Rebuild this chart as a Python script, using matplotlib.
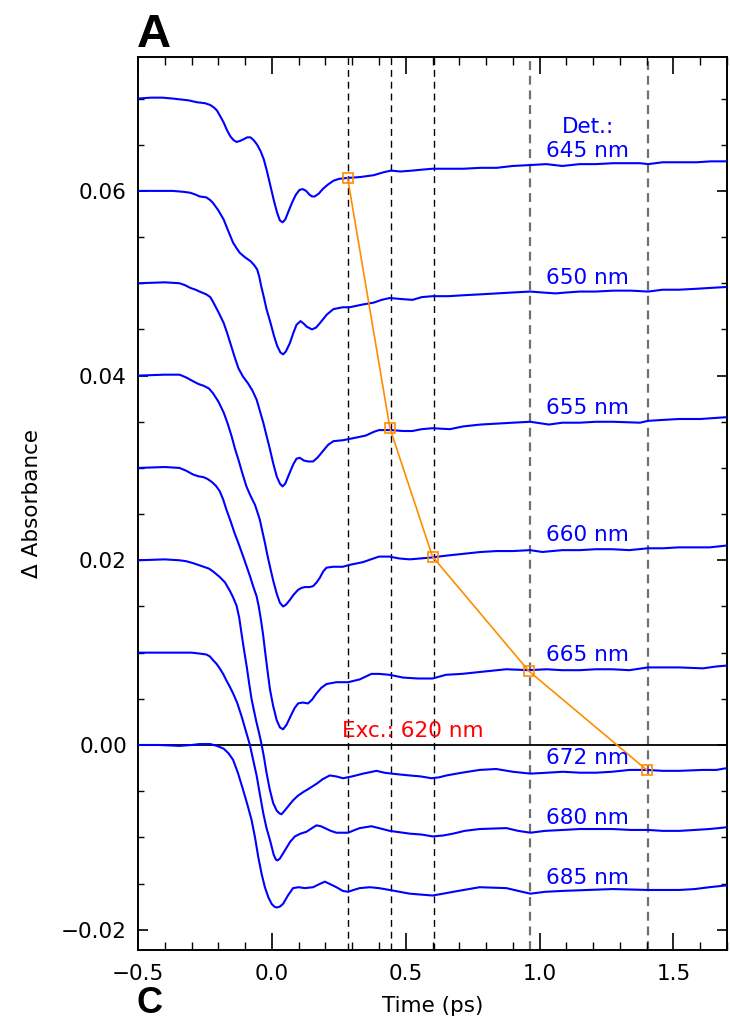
import matplotlib
matplotlib.use("Agg")
import matplotlib.pyplot as plt
from matplotlib.ticker import MultipleLocator, FuncFormatter

# ---------------- data: (time in ps, delta absorbance) ----------------
trace_645 = [(-0.50, 0.0700), (-0.45, 0.0701), (-0.41, 0.0701), (-0.37, 0.0700), (-0.34, 0.0699), (-0.31, 0.0698),
             (-0.28, 0.0696), (-0.25, 0.0695), (-0.23, 0.0693), (-0.215, 0.0690), (-0.205, 0.0687), (-0.193, 0.0681),
             (-0.18, 0.0674), (-0.168, 0.0666), (-0.155, 0.0659), (-0.143, 0.0655), (-0.132, 0.0653), (-0.12, 0.0654),
             (-0.105, 0.0656), (-0.092, 0.0658), (-0.08, 0.0658), (-0.068, 0.0655), (-0.055, 0.0650), (-0.042, 0.0643),
             (-0.03, 0.0634), (-0.018, 0.0621), (-0.005, 0.0605), (0.008, 0.0589), (0.02, 0.0576), (0.03, 0.0568),
             (0.04, 0.0566), (0.05, 0.0569), (0.065, 0.0580), (0.078, 0.0589), (0.09, 0.0596), (0.103, 0.0601),
             (0.115, 0.0602), (0.128, 0.0600), (0.14, 0.0596), (0.15, 0.0594), (0.16, 0.0594), (0.175, 0.0597),
             (0.19, 0.0602), (0.21, 0.0607), (0.23, 0.0611), (0.25, 0.0613), (0.28, 0.0614), (0.33, 0.0615),
             (0.38, 0.0617), (0.415, 0.0620), (0.445, 0.0622), (0.48, 0.0621), (0.525, 0.0622), (0.56, 0.0623),
             (0.60, 0.0624), (0.66, 0.0624), (0.715, 0.0624), (0.78, 0.0625), (0.84, 0.0625), (0.90, 0.0627),
             (0.965, 0.0628), (1.025, 0.0629), (1.085, 0.0627), (1.15, 0.0629), (1.21, 0.0629), (1.275, 0.0630),
             (1.375, 0.0630), (1.405, 0.0629), (1.46, 0.0631), (1.52, 0.0631), (1.585, 0.0631), (1.64, 0.0632),
             (1.70, 0.0632)]

trace_650 = [(-0.50, 0.0600), (-0.37, 0.0600), (-0.33, 0.0599), (-0.305, 0.0598), (-0.285, 0.0596), (-0.27, 0.0594),
             (-0.245, 0.0593), (-0.23, 0.0590), (-0.22, 0.0587), (-0.20, 0.0579), (-0.18, 0.0569), (-0.162, 0.0556),
             (-0.145, 0.0544), (-0.132, 0.0538), (-0.12, 0.0533), (-0.10, 0.0528), (-0.08, 0.0524), (-0.067, 0.0520),
             (-0.055, 0.0515), (-0.047, 0.0507), (-0.04, 0.0497), (-0.03, 0.0485), (-0.02, 0.0472), (-0.005, 0.0457),
             (0.008, 0.0443), (0.02, 0.0432), (0.032, 0.0425), (0.042, 0.0423), (0.052, 0.0426), (0.067, 0.0435),
             (0.08, 0.0446), (0.092, 0.0455), (0.107, 0.0459), (0.12, 0.0456), (0.13, 0.0453), (0.15, 0.0450),
             (0.165, 0.0452), (0.18, 0.0457), (0.205, 0.0466), (0.23, 0.0472), (0.265, 0.0474), (0.29, 0.0474),
             (0.34, 0.0477), (0.38, 0.0479), (0.41, 0.0482), (0.44, 0.0484), (0.48, 0.0483), (0.525, 0.0482),
             (0.56, 0.0485), (0.60, 0.0486), (0.66, 0.0486), (0.715, 0.0487), (0.78, 0.0488), (0.84, 0.0489),
             (0.90, 0.0490), (0.965, 0.0491), (1.01, 0.0490), (1.06, 0.0489), (1.10, 0.0490), (1.15, 0.0491),
             (1.21, 0.0491), (1.275, 0.0492), (1.34, 0.0492), (1.405, 0.0491), (1.46, 0.0493), (1.52, 0.0493),
             (1.585, 0.0494), (1.64, 0.0495), (1.70, 0.0496)]

trace_655 = [(-0.50, 0.0500), (-0.40, 0.0501), (-0.345, 0.0500), (-0.325, 0.0498), (-0.305, 0.0495), (-0.285, 0.0493),
             (-0.27, 0.0491), (-0.245, 0.0488), (-0.23, 0.0485), (-0.22, 0.0480), (-0.20, 0.0469), (-0.18, 0.0457),
             (-0.168, 0.0447), (-0.155, 0.0435), (-0.14, 0.0421), (-0.125, 0.0408), (-0.108, 0.0399), (-0.09, 0.0392),
             (-0.073, 0.0384), (-0.057, 0.0374), (-0.045, 0.0362), (-0.032, 0.0349), (-0.02, 0.0335), (-0.007, 0.0320),
             (0.005, 0.0305), (0.018, 0.0291), (0.03, 0.0283), (0.04, 0.0280), (0.05, 0.0283), (0.067, 0.0295),
             (0.08, 0.0304), (0.092, 0.0310), (0.104, 0.0311), (0.12, 0.0308), (0.135, 0.0307), (0.154, 0.0307),
             (0.17, 0.0311), (0.19, 0.0318), (0.21, 0.0325), (0.23, 0.0329), (0.265, 0.0330), (0.30, 0.0332),
             (0.35, 0.0335), (0.38, 0.0339), (0.40, 0.0341), (0.445, 0.0341), (0.49, 0.0340), (0.525, 0.0340),
             (0.56, 0.0342), (0.60, 0.0343), (0.665, 0.0342), (0.715, 0.0345), (0.78, 0.0347), (0.84, 0.0348),
             (0.90, 0.0349), (0.965, 0.0350), (1.035, 0.0347), (1.085, 0.0349), (1.15, 0.0349), (1.21, 0.0350),
             (1.275, 0.0350), (1.375, 0.0349), (1.405, 0.0351), (1.46, 0.0352), (1.52, 0.0353), (1.60, 0.0353),
             (1.70, 0.0355)]

trace_660 = [(-0.50, 0.0400), (-0.40, 0.0401), (-0.345, 0.0401), (-0.32, 0.0398), (-0.295, 0.0394), (-0.275, 0.0391),
             (-0.255, 0.0389), (-0.235, 0.0386), (-0.22, 0.0381), (-0.20, 0.0372), (-0.18, 0.0360), (-0.165, 0.0348),
             (-0.15, 0.0334), (-0.138, 0.0321), (-0.125, 0.0309), (-0.11, 0.0294), (-0.095, 0.0280), (-0.08, 0.0270),
             (-0.063, 0.0260), (-0.055, 0.0253), (-0.045, 0.0244), (-0.036, 0.0232), (-0.026, 0.0219), (-0.017, 0.0206),
             (-0.007, 0.0193), (0.005, 0.0178), (0.018, 0.0164), (0.03, 0.0154), (0.042, 0.0150), (0.053, 0.0152),
             (0.067, 0.0157), (0.082, 0.0163), (0.098, 0.0168), (0.11, 0.0170), (0.123, 0.0171), (0.14, 0.0171),
             (0.154, 0.0172), (0.167, 0.0176), (0.179, 0.0181), (0.192, 0.0188), (0.204, 0.0192), (0.229, 0.0193),
             (0.265, 0.0193), (0.29, 0.0195), (0.34, 0.0198), (0.37, 0.0201), (0.40, 0.0204), (0.44, 0.0204),
             (0.475, 0.0202), (0.515, 0.0201), (0.555, 0.0202), (0.595, 0.0203), (0.65, 0.0205), (0.715, 0.0207),
             (0.78, 0.0209), (0.84, 0.0210), (0.90, 0.0210), (0.965, 0.0211), (1.01, 0.0209), (1.085, 0.0211),
             (1.15, 0.0211), (1.21, 0.0212), (1.27, 0.0212), (1.335, 0.0211), (1.405, 0.0213), (1.46, 0.0213),
             (1.52, 0.0214), (1.635, 0.0214), (1.70, 0.0216)]

trace_665 = [(-0.50, 0.0300), (-0.40, 0.0301), (-0.345, 0.0300), (-0.32, 0.0297), (-0.295, 0.0293), (-0.275, 0.0291),
             (-0.255, 0.0290), (-0.24, 0.0288), (-0.225, 0.0285), (-0.21, 0.0281), (-0.195, 0.0275), (-0.182, 0.0266),
             (-0.17, 0.0255), (-0.155, 0.0243), (-0.14, 0.0230), (-0.123, 0.0217), (-0.107, 0.0204), (-0.095, 0.0194),
             (-0.082, 0.0183), (-0.07, 0.0172), (-0.057, 0.0161), (-0.049, 0.0150), (-0.041, 0.0136), (-0.033, 0.0120),
             (-0.026, 0.0103), (-0.017, 0.0082), (-0.007, 0.0060), (0.005, 0.0042), (0.018, 0.0027), (0.03, 0.0019),
             (0.042, 0.0017), (0.055, 0.0022), (0.073, 0.0033), (0.085, 0.0040), (0.098, 0.0045), (0.115, 0.0046),
             (0.135, 0.0045), (0.15, 0.0049), (0.167, 0.0056), (0.185, 0.0062), (0.204, 0.0066), (0.241, 0.0068),
             (0.285, 0.0068), (0.328, 0.0071), (0.372, 0.0077), (0.40, 0.0077), (0.44, 0.0076), (0.49, 0.0073),
             (0.545, 0.0072), (0.60, 0.0072), (0.65, 0.0076), (0.71, 0.0077), (0.775, 0.0079), (0.875, 0.0082),
             (0.96, 0.0081), (1.025, 0.0082), (1.085, 0.0081), (1.15, 0.0081), (1.21, 0.0082), (1.27, 0.0082),
             (1.335, 0.0081), (1.405, 0.0084), (1.52, 0.0084), (1.61, 0.0083), (1.66, 0.0085), (1.70, 0.0086)]

trace_672 = [(-0.50, 0.0200), (-0.40, 0.0201), (-0.345, 0.0200), (-0.32, 0.0199), (-0.295, 0.0197), (-0.275, 0.0195),
             (-0.255, 0.0193), (-0.235, 0.0191), (-0.22, 0.0188), (-0.195, 0.0182), (-0.175, 0.0176), (-0.157, 0.0167),
             (-0.145, 0.0160), (-0.132, 0.0151), (-0.122, 0.0138), (-0.113, 0.0120), (-0.104, 0.0103), (-0.094, 0.0085),
             (-0.085, 0.0067), (-0.076, 0.0050), (-0.066, 0.0036), (-0.057, 0.0024), (-0.047, 0.0012), (-0.038, 0.0000),
             (-0.029, -0.0014), (-0.020, -0.0030), (-0.008, -0.0048), (0.005, -0.0063), (0.018, -0.0071),
             (0.028, -0.0074), (0.036, -0.0075), (0.048, -0.0071), (0.062, -0.0066), (0.079, -0.0060),
             (0.097, -0.0055), (0.117, -0.0051), (0.14, -0.0047), (0.167, -0.0042), (0.19, -0.0037), (0.216, -0.0033),
             (0.24, -0.0034), (0.266, -0.0036), (0.30, -0.0034), (0.341, -0.0031), (0.391, -0.0028), (0.42, -0.0030),
             (0.447, -0.0031), (0.48, -0.0032), (0.515, -0.0033), (0.555, -0.0034), (0.596, -0.0036),
             (0.625, -0.0035), (0.652, -0.0033), (0.71, -0.0030), (0.776, -0.0027), (0.838, -0.0026), (0.90, -0.0029),
             (0.966, -0.0031), (1.03, -0.0030), (1.087, -0.0029), (1.15, -0.0030), (1.212, -0.0030), (1.27, -0.0029),
             (1.336, -0.0027), (1.40, -0.0027), (1.46, -0.0028), (1.522, -0.0028), (1.609, -0.0027), (1.66, -0.0027),
             (1.70, -0.0025)]

trace_680 = [(-0.50, 0.0100), (-0.40, 0.0100), (-0.345, 0.0100), (-0.30, 0.0100), (-0.27, 0.0099), (-0.245, 0.0098),
             (-0.232, 0.0096), (-0.22, 0.0092), (-0.207, 0.0088), (-0.195, 0.0083), (-0.182, 0.0077), (-0.17, 0.0070),
             (-0.157, 0.0063), (-0.145, 0.0056), (-0.13, 0.0046), (-0.113, 0.0031), (-0.098, 0.0016), (-0.082, 0.0000),
             (-0.07, -0.0016), (-0.057, -0.0033), (-0.045, -0.0053), (-0.032, -0.0074), (-0.02, -0.0090),
             (-0.007, -0.0103), (0.007, -0.0119), (0.015, -0.0124), (0.021, -0.0125), (0.03, -0.0123),
             (0.049, -0.0114), (0.068, -0.0105), (0.086, -0.0099), (0.107, -0.0096), (0.129, -0.0094), (0.15, -0.0090),
             (0.167, -0.0087), (0.183, -0.0088), (0.198, -0.0090), (0.22, -0.0093), (0.241, -0.0095), (0.285, -0.0095),
             (0.31, -0.0092), (0.328, -0.0090), (0.372, -0.0088), (0.40, -0.0090), (0.44, -0.0093), (0.515, -0.0096),
             (0.56, -0.0097), (0.60, -0.0099), (0.64, -0.0098), (0.677, -0.0096), (0.72, -0.0093), (0.776, -0.0091),
             (0.876, -0.0090), (0.92, -0.0093), (0.966, -0.0095), (1.02, -0.0093), (1.087, -0.0092), (1.15, -0.0091),
             (1.273, -0.0091), (1.34, -0.0092), (1.405, -0.0092), (1.46, -0.0093), (1.522, -0.0093), (1.58, -0.0092),
             (1.634, -0.0091), (1.67, -0.0090), (1.70, -0.0089)]

trace_685 = [(-0.50, 0.0000), (-0.42, 0.0000), (-0.345, -0.0001), (-0.30, 0.0000), (-0.27, 0.0001), (-0.23, 0.0001),
             (-0.205, -0.0001), (-0.18, -0.0004), (-0.162, -0.0009), (-0.145, -0.0016), (-0.127, -0.0030),
             (-0.107, -0.0049), (-0.091, -0.0065), (-0.076, -0.0081), (-0.063, -0.0100), (-0.051, -0.0121),
             (-0.038, -0.0140), (-0.026, -0.0154), (-0.013, -0.0165), (-0.001, -0.0172), (0.009, -0.0175),
             (0.018, -0.0176), (0.03, -0.0175), (0.042, -0.0172), (0.06, -0.0163), (0.079, -0.0155), (0.10, -0.0154),
             (0.123, -0.0155), (0.154, -0.0154), (0.175, -0.0151), (0.198, -0.0148), (0.22, -0.0151), (0.241, -0.0154),
             (0.265, -0.0158), (0.285, -0.0159), (0.305, -0.0157), (0.328, -0.0155), (0.366, -0.0154), (0.40, -0.0155),
             (0.44, -0.0157), (0.515, -0.0161), (0.60, -0.0163), (0.64, -0.0161), (0.677, -0.0159), (0.776, -0.0154),
             (0.876, -0.0155), (0.92, -0.0158), (0.966, -0.0161), (1.02, -0.0159), (1.087, -0.0158), (1.273, -0.0156),
             (1.405, -0.0157), (1.522, -0.0157), (1.58, -0.0156), (1.634, -0.0154), (1.70, -0.0152)]

det_labels = ["645 nm", "650 nm", "655 nm", "660 nm", "665 nm", "672 nm", "680 nm", "685 nm"]
label_y = [0.0637, 0.0499, 0.0358, 0.0221, 0.0091, -0.0021, -0.0086, -0.0151]

square_t = [0.283, 0.441, 0.600, 0.960, 1.400]
square_y = [0.0614, 0.0343, 0.0204, 0.0080, -0.0027]

vline_black = [0.285, 0.446, 0.606]
vline_gray = [0.966, 1.406]

xticks = [-0.5, 0.0, 0.5, 1.0, 1.5]
yticks = [-0.02, 0.00, 0.02, 0.04, 0.06]

traces = [trace_645, trace_650, trace_655, trace_660, trace_665, trace_672, trace_680, trace_685]

# ---------------- figure ----------------
plt.rcParams['font.family'] = ['DejaVu Sans']
fig = plt.figure(figsize=(7.30, 10.22), dpi=100)
ax = fig.add_axes([138 / 730, 72 / 1022, 589 / 730, 893 / 1022])

ax.set_xlim(-0.5, 1.7)
ax.set_ylim(-0.0222, 0.0745)

for x in vline_black:
    ax.axvline(x, color='black', lw=1.0, ls=(0, (5, 3.5)), zorder=1)
for x in vline_gray:
    ax.axvline(x, color='#707070', lw=1.6, ls=(0, (4, 2.6)), zorder=1)

ax.axhline(0.0, color='black', lw=1.3, zorder=2)

for tr in traces:
    tt = [p[0] for p in tr]
    yy = [p[1] for p in tr]
    ax.plot(tt, yy, color='#0000ff', lw=1.5, solid_joinstyle='round', solid_capstyle='round', zorder=3)

ax.plot(square_t, square_y, color='#ff8c00', lw=1.2, marker='s', markersize=7,
        markerfacecolor='none', markeredgecolor='#ff8c00', markeredgewidth=1.2, zorder=4)

fs = 15.5
ax.text(1.18, 0.0663, "Det.:", color='#0000ff', fontsize=fs, ha='center', va='baseline', zorder=5)
for lab, yl in zip(det_labels, label_y):
    ax.text(1.18, yl, lab, color='#0000ff', fontsize=fs, ha='center', va='baseline', zorder=5)
ax.text(0.525, 0.0009, "Exc.: 620 nm", color='#ff0000', fontsize=fs, ha='center', va='baseline', zorder=5)

ax.xaxis.set_minor_locator(MultipleLocator(0.1))
ax.yaxis.set_minor_locator(MultipleLocator(0.005))
ax.set_xticks(xticks)
ax.set_yticks(yticks)
ax.xaxis.set_major_formatter(FuncFormatter(lambda v, p: ("%.1f" % v).replace("-", "\u2212")))
ax.yaxis.set_major_formatter(FuncFormatter(lambda v, p: ("%.2f" % (0.0 if abs(v) < 1e-9 else v)).replace("-", "\u2212")))

ax.tick_params(axis='x', which='major', direction='in', length=12, width=1.2, top=True, bottom=True,
               labelsize=fs, pad=10)
ax.tick_params(axis='x', which='minor', direction='in', length=6, width=1.0, top=True, bottom=True)
ax.tick_params(axis='y', which='major', direction='in', length=7.5, width=1.2, left=True, right=True,
               labelsize=fs, pad=8)
ax.tick_params(axis='y', which='minor', direction='in', length=4, width=1.0, left=True, right=True)
for s in ax.spines.values():
    s.set_linewidth(1.4)

ax.set_xlabel("Time (ps)", fontsize=fs, labelpad=9)
fig.text(32 / 730, 1 - 503 / 1022, "Δ Absorbance", rotation=90, fontsize=fs, ha='center', va='center')

fig.text(137 / 730, 1 - 47 / 1022, "A", fontsize=34, fontweight='bold', family='Liberation Sans',
         ha='left', va='baseline')
fig.text(137 / 730, 0.001, "C", fontsize=26, fontweight='bold', family='Liberation Sans',
         ha='left', va='bottom')

fig.savefig("out.png", dpi=100)
